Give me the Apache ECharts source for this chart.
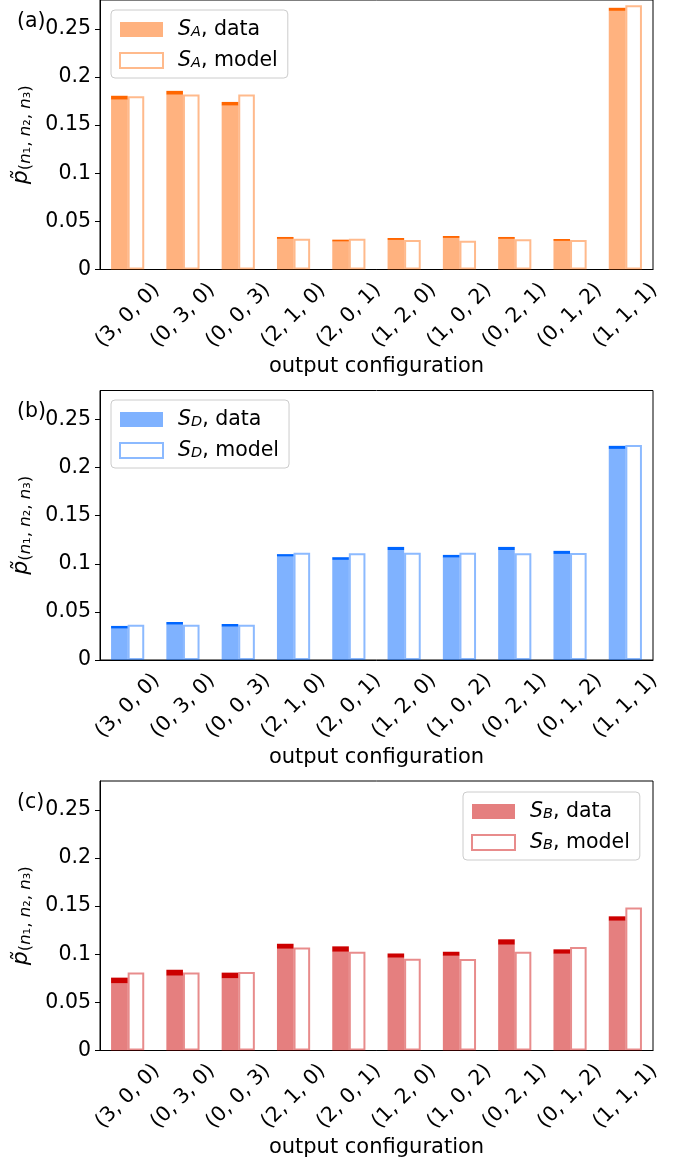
<!DOCTYPE html>
<html>
<head>
<meta charset="utf-8">
<script src="https://cdn.jsdelivr.net/npm/echarts@6/dist/echarts.min.js"></script>
<style>
  html, body { margin: 0; padding: 0; background: #fff; }
  #chart { width: 699px; height: 1163px; }
</style>
</head>
<body>
<div id="chart"></div>
<script>
// Output configurations (n1, n2, n3)
const categories = ['(3, 0, 0)', '(0, 3, 0)', '(0, 0, 3)', '(2, 1, 0)', '(2, 0, 1)',
                    '(1, 2, 0)', '(1, 0, 2)', '(0, 2, 1)', '(0, 1, 2)', '(1, 1, 1)'];
const yTicks = [0, 0.05, 0.1, 0.15, 0.2, 0.25];

// S_A: measured probabilities, their uncertainty, and model prediction
const dataA  = [0.1785, 0.1836, 0.1722, 0.0328, 0.0300, 0.0317, 0.0338, 0.0328, 0.0307, 0.2703];
const errA   = [0.0020, 0.0020, 0.0019, 0.0010, 0.0010, 0.0010, 0.0010, 0.0010, 0.0010, 0.0016];
const modelA = [0.1800, 0.1817, 0.1817, 0.0320, 0.0320, 0.0307, 0.0300, 0.0314, 0.0307, 0.2746];

// S_D
const dataD  = [0.0340, 0.0381, 0.0360, 0.1087, 0.1054, 0.1159, 0.1078, 0.1159, 0.1118, 0.2209];
const errD   = [0.0014, 0.0014, 0.0014, 0.0013, 0.0014, 0.0016, 0.0014, 0.0016, 0.0016, 0.0016];
const modelD = [0.0367, 0.0367, 0.0367, 0.1115, 0.1110, 0.1115, 0.1115, 0.1110, 0.1112, 0.2235];

// S_B
const dataB  = [0.0727, 0.0808, 0.0779, 0.1083, 0.1054, 0.0986, 0.1005, 0.1127, 0.1028, 0.1371];
const errB   = [0.0030, 0.0031, 0.0030, 0.0026, 0.0028, 0.0022, 0.0021, 0.0028, 0.0023, 0.0023];
const modelB = [0.0811, 0.0811, 0.0815, 0.1071, 0.1026, 0.0953, 0.0950, 0.1026, 0.1075, 0.1486];

const FONT = 'DejaVu Sans';
const FS = 20.5;

const panels = [
  { key: 'A', label: '(a)', data: dataA, err: errA, model: modelA,
    dark: '#ff6600', light: 'rgba(255,102,0,0.5)', edge: 'rgba(255,102,0,0.45)',
    top: 0, legend: { left: 111, top: 10 } },
  { key: 'D', label: '(b)', data: dataD, err: errD, model: modelD,
    dark: '#0066ff', light: 'rgba(0,102,255,0.5)', edge: 'rgba(0,102,255,0.45)',
    top: 390.5, legend: { left: 111, top: 400 } },
  { key: 'B', label: '(c)', data: dataB, err: errB, model: modelB,
    dark: '#cc0000', light: 'rgba(204,0,0,0.5)', edge: 'rgba(204,0,0,0.45)',
    top: 781, legend: { left: 463, top: 792 } }
];

const PLOT_H = 269.5;

const subRich = {
  i:   { fontFamily: FONT, fontStyle: 'italic', fontSize: FS, color: '#000', padding: [0, 0, 0, 10] },
  sub: { fontFamily: FONT, fontStyle: 'italic', fontSize: 14.5, color: '#000',
         lineHeight: 14, verticalAlign: 'bottom', padding: [9, 0, 0, 0] },
  t:   { fontFamily: FONT, fontSize: FS, color: '#000' }
};

const yNameRich = {
  p:  { fontFamily: FONT, fontStyle: 'italic', fontSize: 22, color: '#000', lineHeight: 26 },
  s:  { fontFamily: FONT, fontSize: 16.5, color: '#000', lineHeight: 16,
        verticalAlign: 'bottom', padding: [8, 0, 0, 0] },
  si: { fontFamily: FONT, fontStyle: 'italic', fontSize: 16.5, color: '#000', lineHeight: 16,
        verticalAlign: 'bottom', padding: [8, 0, 0, 0] }
};

const grid = [], xAxis = [], yAxis = [], series = [], legend = [], graphic = [];

panels.forEach((p, k) => {
  grid.push({ left: 100, right: 46, top: p.top, height: PLOT_H, show: true,
              borderColor: '#000', borderWidth: 1, backgroundColor: 'transparent' });

  xAxis.push({
    type: 'category', gridIndex: k, data: categories,
    name: 'output configuration', nameLocation: 'middle', nameGap: 87,
    nameTextStyle: { fontFamily: FONT, fontSize: 21, color: '#000' },
    axisLine: { lineStyle: { color: '#000', width: 1 } },
    axisTick: { alignWithLabel: true, length: 5, lineStyle: { color: '#000' } },
    axisLabel: { rotate: 45, align: 'center', verticalAlign: 'middle', margin: 46,
                 fontFamily: FONT, fontSize: FS, color: '#000', interval: 0 },
    splitLine: { show: false }
  });

  yAxis.push({
    type: 'value', gridIndex: k, min: 0, max: 0.28,
    name: '{p|p\u0303}{s|(}{si|n}{s|\u2081, }{si|n}{s|\u2082, }{si|n}{s|\u2083)}',
    nameLocation: 'middle', nameRotate: 90, nameGap: 56,
    nameTextStyle: { rich: yNameRich },
    axisLine: { show: true, lineStyle: { color: '#000', width: 1 } },
    axisTick: { show: true, length: 5, lineStyle: { color: '#000' }, customValues: yTicks },
    axisLabel: { fontFamily: FONT, fontSize: FS, color: '#000', margin: 9, customValues: yTicks },
    splitLine: { show: false }
  });

  const low = p.data.map((v, i) => v - p.err[i]);
  const band = p.err.map(e => 2 * e);

  series.push({
    name: p.key + ' data', type: 'bar', xAxisIndex: k, yAxisIndex: k,
    stack: 'data' + p.key, barWidth: '30%', barGap: '0%',
    itemStyle: { color: p.light }, data: low, silent: true
  });
  series.push({
    name: p.key + ' band', type: 'bar', xAxisIndex: k, yAxisIndex: k,
    stack: 'data' + p.key, barWidth: '30%', barGap: '0%',
    itemStyle: { color: p.dark }, data: band, silent: true
  });
  series.push({
    name: p.key + ' model', type: 'bar', xAxisIndex: k, yAxisIndex: k,
    barWidth: '30%', barGap: '0%',
    itemStyle: { color: '#fff', borderColor: p.edge, borderWidth: 2 },
    data: p.model, silent: true
  });

  legend.push({
    left: p.legend.left, top: p.legend.top, orient: 'vertical', align: 'left',
    icon: 'rect', itemWidth: 43, itemHeight: 15, itemGap: 7,
    padding: [6, 10, 7, 8],
    backgroundColor: 'rgba(255,255,255,0.8)', borderColor: '#cccccc',
    borderWidth: 1, borderRadius: 4,
    data: [
      { name: p.key + ' data', itemStyle: { color: p.light, borderWidth: 0 } },
      { name: p.key + ' model', itemStyle: { color: '#fff', borderColor: p.edge, borderWidth: 2 } }
    ],
    formatter: name => '{i|S}{sub|' + p.key + '}{t|, ' + name.split(' ')[1] + '}',
    textStyle: { rich: subRich },
    selectedMode: false
  });

  graphic.push({
    type: 'text', left: 17, top: p.top + 11,
    style: { text: p.label, fontFamily: FONT, fontSize: FS, fill: '#000' }
  });
});

const chart = echarts.init(document.getElementById('chart'), null, { renderer: 'canvas' });
chart.setOption({
  animation: false,
  backgroundColor: '#fff',
  grid, xAxis, yAxis, series, legend, graphic
});
</script>
</body>
</html>
